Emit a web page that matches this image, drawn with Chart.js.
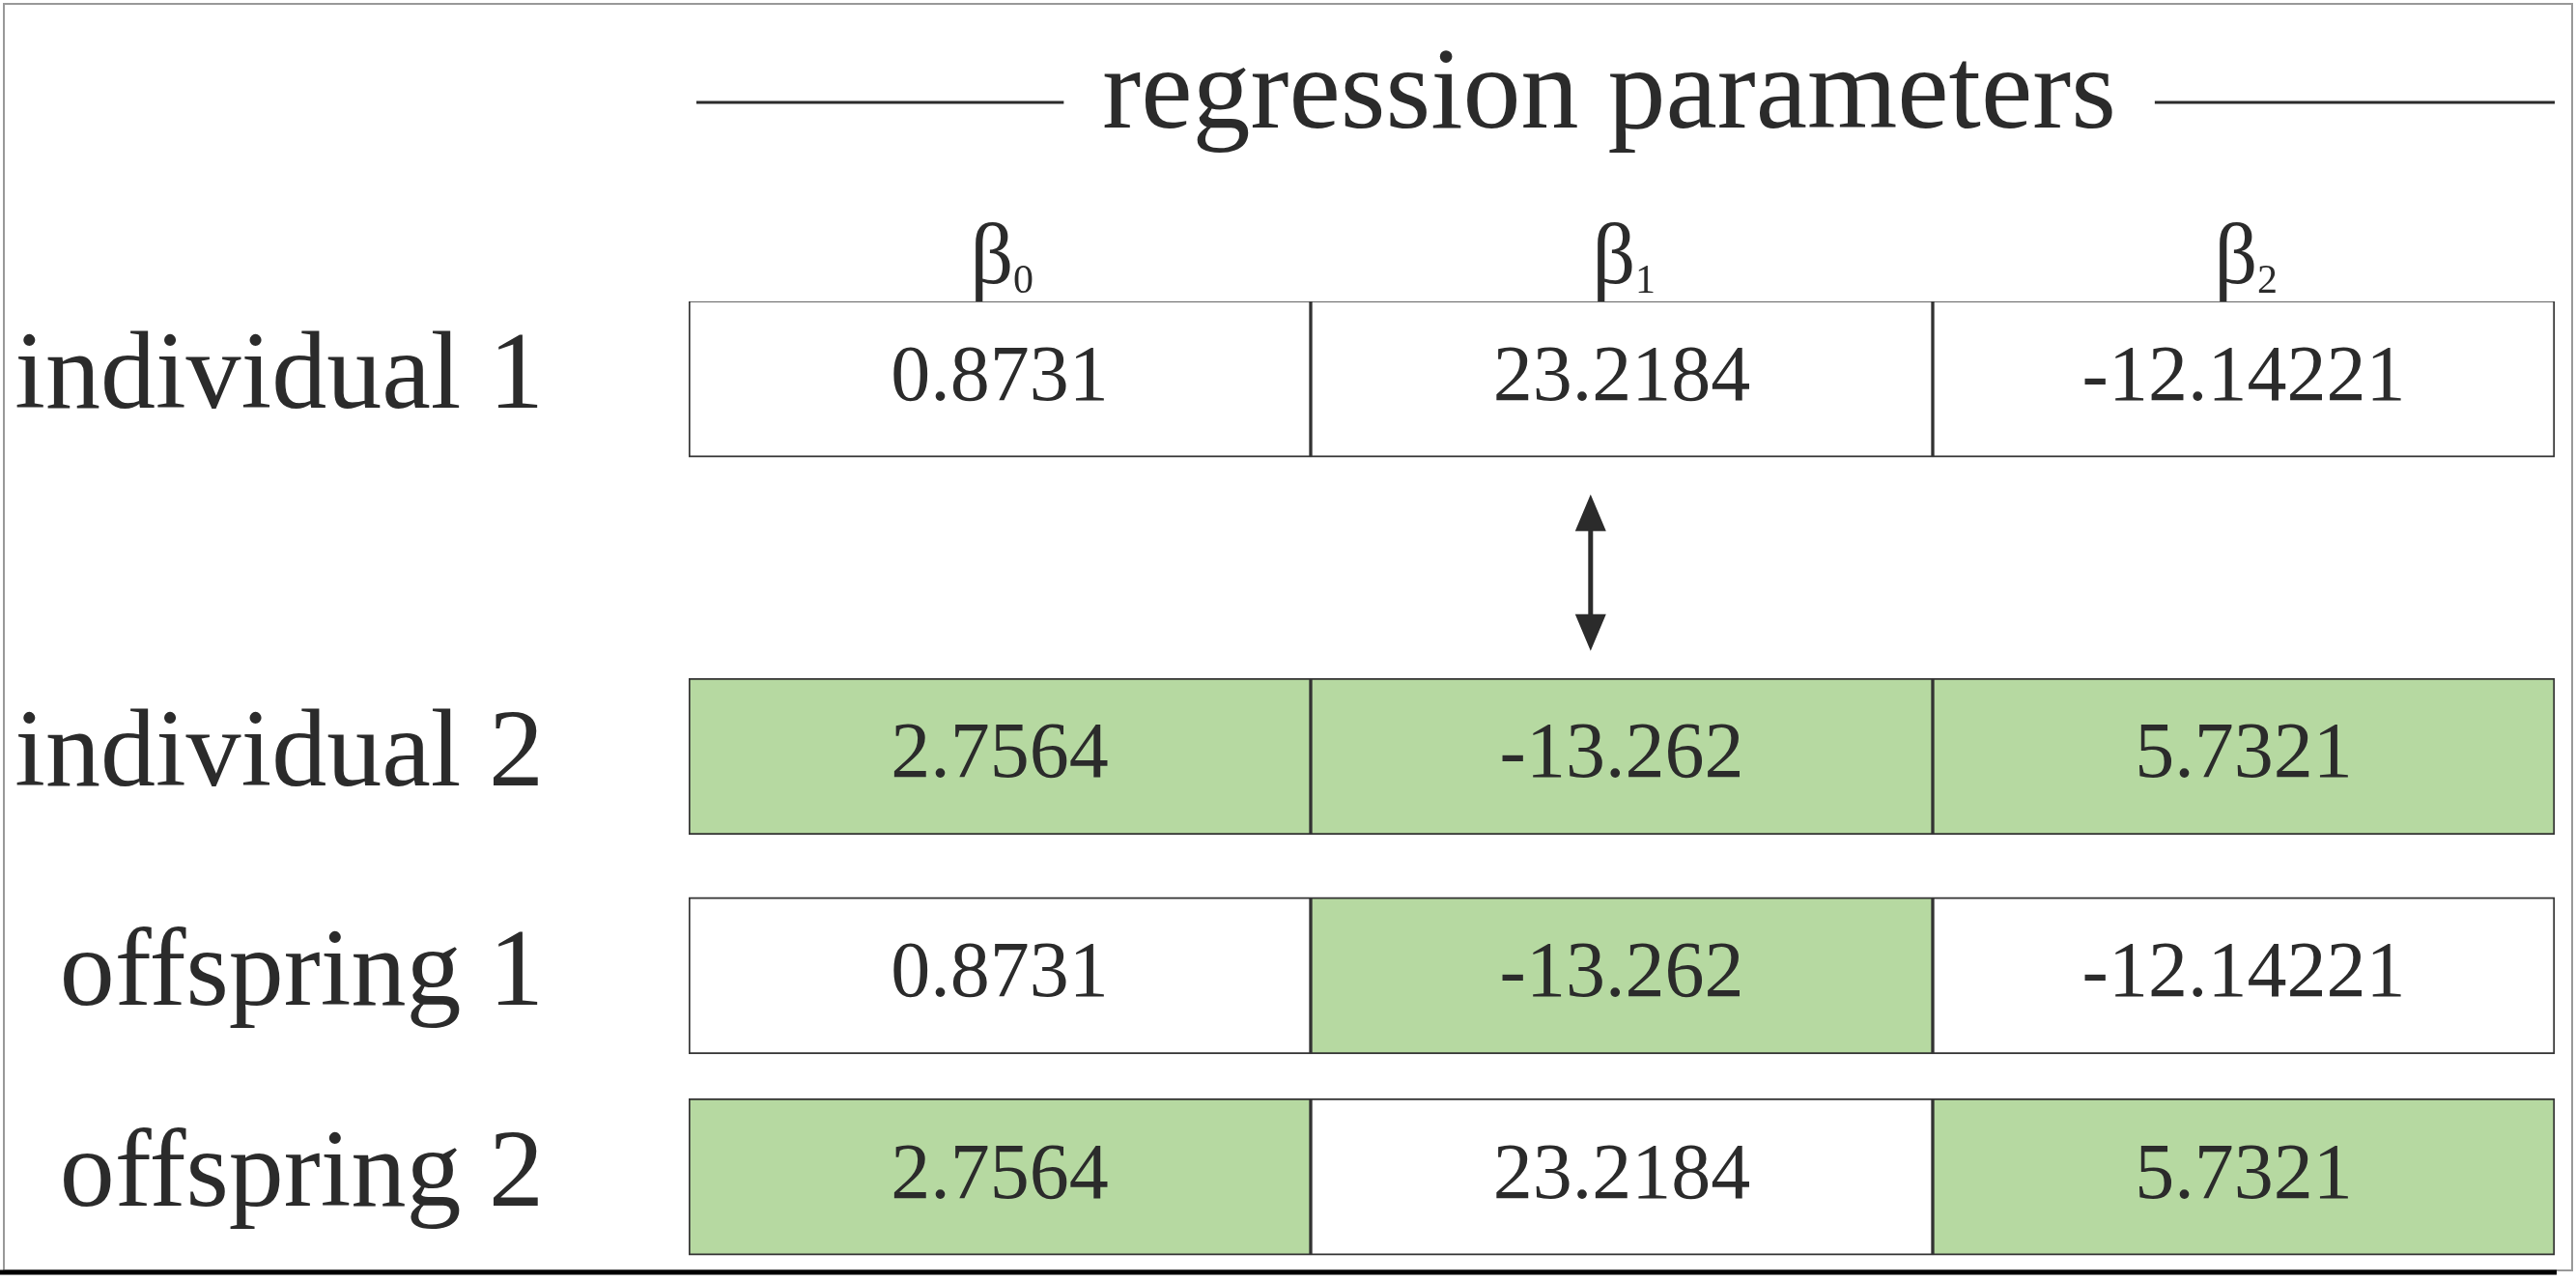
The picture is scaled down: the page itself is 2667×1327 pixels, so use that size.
<!DOCTYPE html>
<html>
<head>
<meta charset="utf-8">
<script src="https://cdn.jsdelivr.net/npm/chart.js@4/dist/chart.umd.min.js"></script>
<style>
  body { margin: 0; background: #fff; }
  #wrap { width: 2667px; height: 1327px; position: relative; }
</style>
</head>
<body>
<div id="wrap"><canvas id="myChart"></canvas></div>
<script>
const title = 'regression parameters'
const rowLabels = ['individual 1', 'individual 2', 'offspring 1', 'offspring 2']
const rowPos = [0, 2.29, 3.62, 4.84]
const colLabels = ['β', 'β', 'β']
const colSubs = ['0', '1', '2']
const values = [
    ['0.8731', '23.2184', '-12.14221'],
    ['2.7564', '-13.262', '5.7321'],
    ['0.8731', '-13.262', '-12.14221'],
    ['2.7564', '23.2184', '5.7321'],
]
// 1 = taken from individual 2 (green)
const fromSecond = [
    [0, 0, 0],
    [1, 1, 1],
    [0, 1, 0],
    [1, 0, 1],
]

const GREEN = '#b6d9a1'
const SERIF = '"Liberation Serif", "DejaVu Serif", serif'

const cells = []
const colors = []
rowPos.forEach((y, r) => {
    values[r].forEach((v, c) => {
        cells.push({ x: [c, c + 1], y: y, label: v })
        colors.push(fromSecond[r][c] ? GREEN : '#ffffff')
    })
})

const textPlugin = {
    id: 'tableText',
    afterDatasetsDraw(chart) {
        const { ctx, scales: { x, y } } = chart
        ctx.save()
        ctx.fillStyle = '#2b2b2b'
        ctx.textBaseline = 'middle'
        // cell values
        ctx.font = '82px ' + SERIF
        ctx.textAlign = 'center'
        cells.forEach(c => {
            ctx.fillText(c.label, x.getPixelForValue(c.x[0] + 0.5), y.getPixelForValue(c.y))
        })
        // row labels
        ctx.font = '114px ' + SERIF
        ctx.textAlign = 'right'
        rowLabels.forEach((l, i) => {
            ctx.fillText(l, x.left - 150, y.getPixelForValue(rowPos[i]))
        })
        // column headers
        colLabels.forEach((l, i) => {
            const cx = x.getPixelForValue(i + 0.5)
            const cy = y.top - 42
            ctx.font = '88px ' + SERIF
            ctx.textAlign = 'center'
            ctx.fillText(l, cx - 8, cy)
            ctx.font = '42px ' + SERIF
            ctx.textAlign = 'left'
            ctx.fillText(colSubs[i], cx + 14, cy + 22)
        })
        // title with lines
        const tx = x.getPixelForValue(1.48)
        const ty = 100
        ctx.font = '120px ' + SERIF
        ctx.textAlign = 'center'
        ctx.fillText(title, tx, ty)
        const half = ctx.measureText(title).width / 2
        ctx.strokeStyle = '#2b2b2b'
        ctx.lineWidth = 3
        ctx.beginPath()
        ctx.moveTo(x.left + 8, ty + 6); ctx.lineTo(tx - half - 40, ty + 6)
        ctx.moveTo(tx + half + 40, ty + 6); ctx.lineTo(x.right, ty + 6)
        ctx.stroke()
        // swap arrow
        const ax = x.getPixelForValue(1.45)
        const a1 = y.getPixelForValue(0.7), a2 = y.getPixelForValue(1.65)
        ctx.lineWidth = 5
        ctx.beginPath(); ctx.moveTo(ax, a1 + 20); ctx.lineTo(ax, a2 - 20); ctx.stroke()
        ctx.beginPath()
        ctx.moveTo(ax, a1); ctx.lineTo(ax - 16, a1 + 38); ctx.lineTo(ax + 16, a1 + 38); ctx.closePath()
        ctx.moveTo(ax, a2); ctx.lineTo(ax - 16, a2 - 38); ctx.lineTo(ax + 16, a2 - 38); ctx.closePath()
        ctx.fill()
        // frame
        ctx.strokeStyle = '#999'
        ctx.lineWidth = 2
        ctx.strokeRect(4, 4, chart.width - 8, chart.height - 16)
        ctx.strokeStyle = '#000'
        ctx.lineWidth = 5
        ctx.beginPath(); ctx.moveTo(0, chart.height - 10); ctx.lineTo(chart.width - 20, chart.height - 10); ctx.stroke()
        ctx.restore()
    }
}

const ctx = document.getElementById('myChart').getContext('2d')
const myChart = new Chart(ctx, {
    type: 'bar',
    data: {
        datasets: [{
            data: cells,
            backgroundColor: colors,
            borderColor: '#333',
            borderWidth: 2,
            borderSkipped: false,
            barThickness: 162,
        }]
    },
    options: {
        indexAxis: 'y',
        responsive: true,
        maintainAspectRatio: false,
        animation: false,
        layout: { padding: { left: 713, right: 22, top: 312, bottom: 27 } },
        plugins: { legend: { display: false }, tooltip: { enabled: false } },
        scales: {
            x: { type: 'linear', min: 0, max: 3, display: false, offset: false },
            y: { type: 'linear', min: -0.47, max: 5.32, reverse: true, display: false, offset: false }
        }
    },
    plugins: [textPlugin]
})
</script>
</body>
</html>
